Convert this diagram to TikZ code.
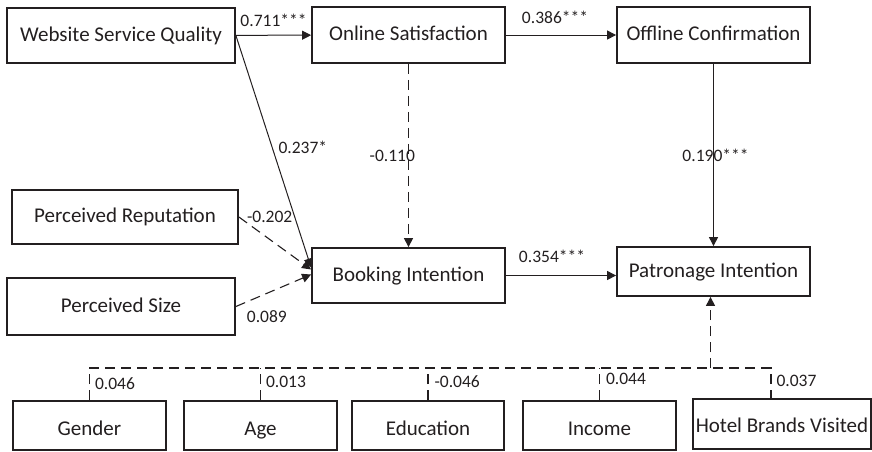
\documentclass[tikz,border=0pt]{standalone}
\usepackage{fontspec}
\setmainfont{Carlito}
\usepackage{xcolor}
\usepackage{tikz}
\usetikzlibrary{arrows.meta,positioning,calc}
\definecolor{ink}{HTML}{231F20}

\begin{document}
\begin{tikzpicture}[x=1pt, y=-1pt,
  box/.style={draw=ink, line width=1.8pt, minimum height=55pt, minimum width=193pt,
              inner sep=0pt, text height=16pt, text depth=4.5pt, text=ink,
              font=\fontsize{21}{25}\selectfont},
  cbox/.style={box, minimum height=49pt, minimum width=153pt, text height=24pt},
  arr/.style={-{Triangle[length=9pt, width=9pt]}, line width=1pt, draw=ink},
  dline/.style={line width=1.1pt, draw=ink, dash pattern=on 10pt off 6pt},
  lbl/.style={font=\fontsize{17.5}{20}\selectfont, text=ink, inner sep=0pt}]
\useasboundingbox (0,0) rectangle (872,451);
% top row
\node[box, minimum width=228pt] (wsq) at (121,35.5) {Website Service Quality};
\node[box, minimum height=56pt] (os) at (408.5,35) {Online Satisfaction};
\node[box, minimum height=56pt] (oc) at (713.5,35) {Offline Confirmation};
% middle row
\node[box, minimum width=226pt, minimum height=54pt] (rep) at (125,217) {Perceived Reputation};
\node[box, minimum width=228pt, minimum height=57pt] (size) at (121,306.5) {Perceived Size};
\node[box] (bi) at (408.5,275.5) {Booking Intention};
\node[box, minimum height=49pt] (pat) at (713.5,271.5) {Patronage Intention};
% controls
\node[cbox] (gender) at (89.5,425.5) {Gender};
\node[cbox] (age) at (260.5,425.5) {Age};
\node[cbox, minimum width=152pt] (edu) at (428,425.5) {Education};
\node[cbox] (inc) at (599.5,425.5) {Income};
\node[cbox, minimum width=178pt, minimum height=50pt, text height=22pt] (hbv) at (782,424) {Hotel Brands Visited};
% paths
\draw[arr] (wsq) -- node[lbl, above=8pt] (l711) {0.711***} (os);
\draw[arr] (os) -- node[lbl, above=11pt, xshift=-6pt] (l386) {0.386***} (oc);
\draw[arr] (bi) -- node[lbl, above=12pt, xshift=-9pt] (l354) {0.354***} (pat.west |- bi);
\draw[arr] (oc) -- node[lbl, xshift=2pt] (l190) {0.190***} (pat);
\draw[arr, dline] (os) -- node[lbl, anchor=east, xshift=7pt] (l110) {-0.110} (bi);
\draw[arr] (wsq.east) -- node[lbl, pos=0.48, anchor=west, xshift=6pt] (l237) {0.237*}
      ([yshift=8pt]bi.west);
\draw[arr, dline] (rep.east) -- ([yshift=6pt]bi.west);
\node[lbl, anchor=west] (l202) at ([xshift=8pt]rep.east) {-0.202};
\draw[arr, dline] (size.east) -- ([yshift=1pt]bi.west);
\node[lbl] (l089) at ($(size.east)+(31,10)$) {0.089};
% control bus
\coordinate (bus) at (0,368);
\coordinate (hbvdrop) at ([xshift=-11pt]hbv.north);
\draw[dline] (gender.north) |- node[lbl, pos=0.25, anchor=west, xshift=5pt] (l046) {0.046}
      (hbvdrop |- bus) -- node[lbl, anchor=west, xshift=5pt, yshift=2pt] (l037) {0.037} (hbvdrop);
\draw[dline] (age.north) -- node[lbl, anchor=west, xshift=5pt, yshift=2pt] (l013) {0.013} (age.north |- bus);
\draw[dline] (edu.north) -- node[lbl, anchor=west, xshift=6pt, yshift=2pt] (l046b) {-0.046} (edu.north |- bus);
\draw[dline] (inc.north) -- node[lbl, anchor=west, xshift=6pt, yshift=5pt] (l044) {0.044} (inc.north |- bus);
\draw[arr, dline] ([xshift=-3pt]pat.south |- bus) -- ([xshift=-3pt]pat.south);
\end{tikzpicture}
\end{document}
